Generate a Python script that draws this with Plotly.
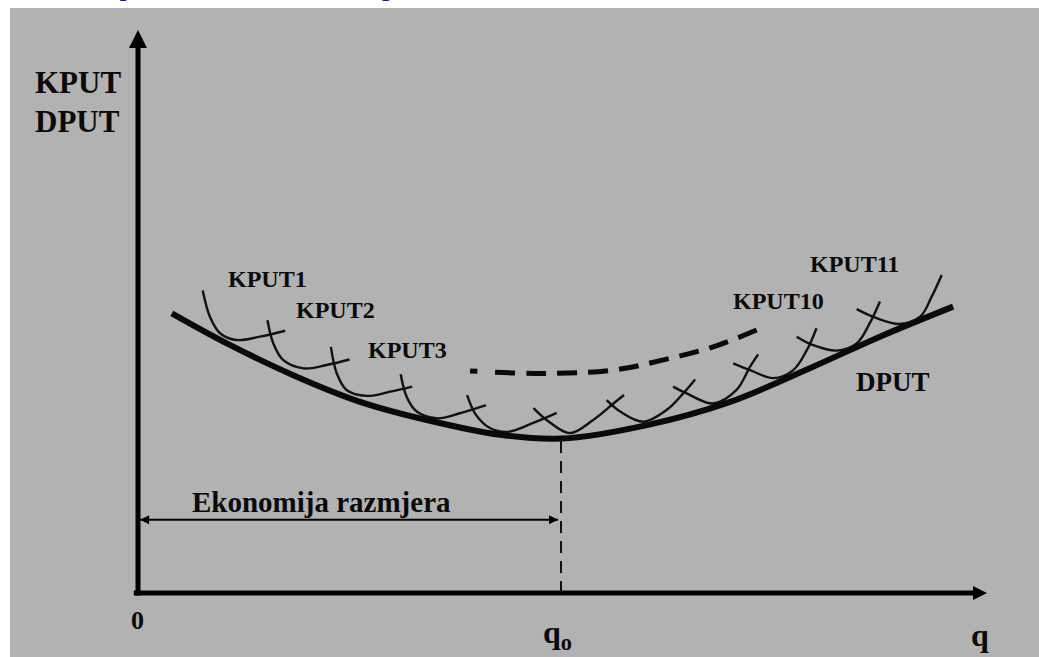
import plotly.graph_objects as go

# ---------------- data (q = output, c = unit cost; q0 = 10) ----------------
dput_q = [0.80, 2.10, 3.67, 5.25, 6.83, 8.56, 10.0, 12.03, 14.0, 15.96, 17.54, 19.27]
dput_c = [6.61, 5.90, 5.15, 4.52, 4.09, 3.74, 3.65, 3.97, 4.52, 5.35, 6.06, 6.77]

kput1_q = [1.53, 1.70, 1.94, 2.33, 2.88, 3.48]
kput1_c = [7.15, 6.53, 6.14, 5.98, 6.06, 6.20]
kput2_q = [3.06, 3.20, 3.43, 3.91, 4.46, 5.00]
kput2_c = [6.45, 5.90, 5.51, 5.31, 5.39, 5.52]
kput3_q = [4.56, 4.70, 4.93, 5.41, 5.96, 6.48]
kput3_c = [5.82, 5.19, 4.80, 4.66, 4.76, 4.88]
kput4_q = [6.21, 6.35, 6.59, 7.06, 7.61, 8.23]
kput4_c = [5.17, 4.64, 4.29, 4.13, 4.25, 4.44]
kput5_q = [7.78, 7.99, 8.32, 8.75, 9.34, 9.90]
kput5_c = [4.68, 4.21, 3.90, 3.81, 4.02, 4.26]
kput6_q = [9.35, 9.66, 10.21, 10.76, 11.24, 11.49]
kput6_c = [4.37, 4.09, 3.78, 4.09, 4.48, 4.68]
kput7_q = [11.08, 11.40, 11.95, 12.50, 12.89, 13.17]
kput7_c = [4.56, 4.29, 4.05, 4.33, 4.72, 5.05]
kput8_q = [12.65, 12.97, 13.60, 14.15, 14.47, 14.66]
kput8_c = [4.88, 4.72, 4.48, 4.80, 5.35, 5.64]
kput9_q = [14.07, 14.47, 15.02, 15.49, 15.81, 16.04]
kput9_c = [5.43, 5.27, 5.08, 5.27, 5.74, 6.26]
kput10_q = [15.57, 15.96, 16.52, 16.99, 17.30, 17.54]
kput10_c = [6.06, 5.86, 5.73, 5.90, 6.38, 6.89]
kput11_q = [16.99, 17.38, 18.01, 18.49, 18.76, 19.00]
kput11_c = [6.71, 6.53, 6.36, 6.53, 7.00, 7.52]

envelope_q = [7.85, 9.66, 11.24, 12.42, 13.60, 14.82]
envelope_c = [5.25, 5.19, 5.27, 5.51, 5.82, 6.30]

q0 = 10.0
q0_c = 3.62
q_axis_end = 20.07
c_axis_end = 13.31
scale_arrow_q = [0.05, 9.93]
scale_arrow_c = 1.73

curve_labels = ["KPUT1", "KPUT2", "KPUT3", "KPUT10", "KPUT11", "DPUT"]
curve_label_q = [3.05, 4.68, 6.36, 15.13, 16.93, 17.85]
curve_label_c = [7.42, 6.69, 5.74, 6.90, 7.78, 4.99]

# ---------------- figure ----------------
BG = "#b2b2b2"
SERIF = "Liberation Serif"
INK = "#0a0a0a"
fig = go.Figure()

def line(xs, ys, width, color=INK, dash=None, shape="linear"):
    fig.add_trace(go.Scatter(x=xs, y=ys, mode="lines",
                             line=dict(color=color, width=width, shape=shape, dash=dash),
                             hoverinfo="skip", showlegend=False))

def head(x, y, symbol, size):
    fig.add_trace(go.Scatter(x=[x], y=[y], mode="markers",
                             marker=dict(symbol=symbol, size=size, color="#000000",
                                         line=dict(width=0)),
                             hoverinfo="skip", showlegend=False))

kputs = [(kput1_q, kput1_c), (kput2_q, kput2_c), (kput3_q, kput3_c), (kput4_q, kput4_c),
         (kput5_q, kput5_c), (kput6_q, kput6_c), (kput7_q, kput7_c), (kput8_q, kput8_c),
         (kput9_q, kput9_c), (kput10_q, kput10_c), (kput11_q, kput11_c)]
for kq, kc in kputs:
    line(kq, kc, 2.4, color="#111111", shape="spline")

line(dput_q, dput_c, 6, shape="spline")
envelope_dash = "7px,18px," + "20px,11px," * 10 + "200px"
line(envelope_q, envelope_c, 5, dash=envelope_dash, shape="spline")
line([q0, q0], [0, q0_c], 2, color="#111111", dash="12px,8px")

# axes
line([0, 0], [-0.06, c_axis_end - 0.2], 5, color="#000000")
head(0, c_axis_end, "arrow-up", 18)
line([-0.1, q_axis_end - 0.2], [0, 0], 5, color="#000000")
head(q_axis_end, 0, "arrow-right", 14)

# double arrow: economies of scale
line(scale_arrow_q, [scale_arrow_c, scale_arrow_c], 2, color="#000000")
head(scale_arrow_q[0], scale_arrow_c, "arrow-left", 9)
head(scale_arrow_q[1], scale_arrow_c, "arrow-right", 9)

def label(txt, x, y, size, xanchor="center", yanchor="middle"):
    fig.add_annotation(x=x, y=y, xref="x", yref="y", text=txt, showarrow=False,
                       xanchor=xanchor, yanchor=yanchor,
                       font=dict(family=SERIF, size=size, color=INK, weight="bold"))

for t, lq, lc in zip(curve_labels, curve_label_q, curve_label_c):
    label(t, lq, lc, 27 if t == "DPUT" else 24)

label("KPUT", -2.48, 12.07, 31, xanchor="left")
label("DPUT", -2.48, 11.15, 31, xanchor="left")
label("Ekonomija razmjera", 4.33, 2.14, 29)
label("0", -0.02, -0.64, 26)
label("q<sub>o</sub>", 9.91, -0.99, 32)
label("q", 19.91, -0.99, 32)

# cut-off blue title of the slide (only descenders visible)
for ch, xq in [("p", -0.54), ("y", 5.67)]:
    fig.add_annotation(x=xq, y=1, xref="x", yref="paper", text=ch, showarrow=False,
                       xanchor="left", yanchor="bottom", yshift=5,
                       font=dict(family="Liberation Sans", size=44, color="#1c1c8e", weight="bold"))

fig.update_xaxes(visible=False, range=[-3.026, 21.30], fixedrange=True)
fig.update_yaxes(visible=False, range=[-1.513, 13.83], fixedrange=True)
fig.update_layout(width=1039, height=657, margin=dict(l=10, r=0, t=8, b=0),
                  paper_bgcolor="white", plot_bgcolor=BG)

fig.write_html("out.html", config={"displayModeBar": False},
               post_script="document.body.style.margin='0';document.body.style.overflow='hidden';")
